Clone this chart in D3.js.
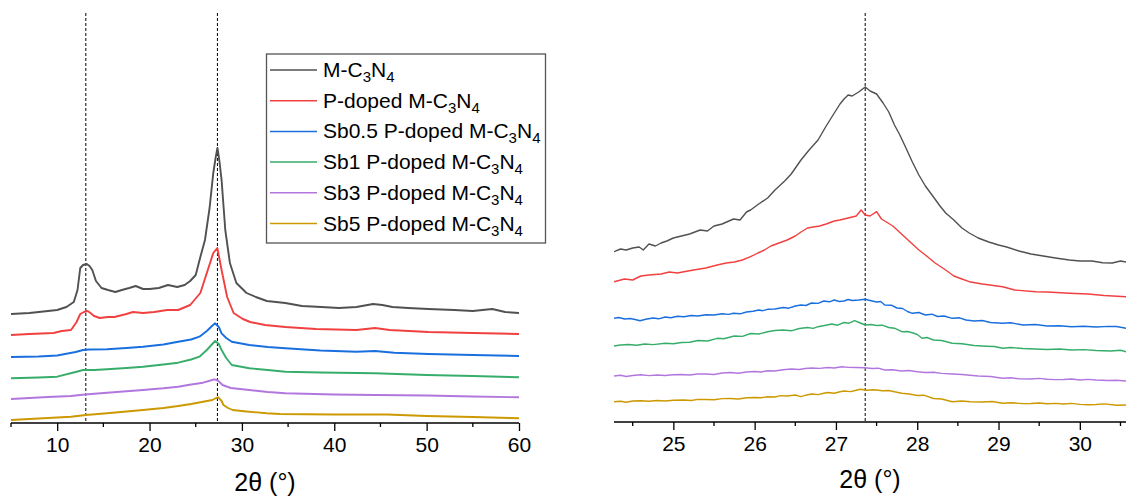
<!DOCTYPE html>
<head>
    <meta charset="utf-8" />
    <title>XRD</title>
    <script src="https://d3js.org/d3.v7.min.js"></script>
    <style>
        body { margin: 0; background: #fff; }
        text { font-family: Arial, "Liberation Sans", sans-serif; fill: #000; }
    </style>
</head>
<body>
<svg width="1126" height="498"></svg>

<script>
    // legend / series names and colours
    let names = ["M-C", "P-doped M-C", "Sb0.5 P-doped M-C", "Sb1 P-doped M-C", "Sb3 P-doped M-C", "Sb5 P-doped M-C"];
    let colors = ["#515151", "#F14040", "#1A6FDF", "#37AD6B", "#B177DE", "#CC9900"];

    // left panel, full scan 5-60 deg (intensity, a.u., already offset)
    let wideBlack = [[5,109],[7,110],[9,112],[10,113],[11,116],[11.8,121],[12.2,133],[12.5,155],[12.8,158],[13.2,159],[13.5,157],[13.8,153],[14.2,142],[14.8,135],[15.5,133],[16.3,131],[17,133],[17.8,135],[18.5,137],[19.3,134],[20,134],[21,135],[22,138],[23,136],[23.8,138],[24.4,142],[25,148],[25.5,166],[26,183],[26.5,215],[26.9,250],[27.15,265],[27.35,275],[27.55,263],[27.8,243],[28.2,193],[28.7,160],[29.4,140],[30.5,130],[31.5,126],[32.7,122],[34.7,120],[36.5,117],[38.6,116],[40.5,115],[42.4,116],[44.2,119],[45.2,118],[46.3,116],[48,115],[50.2,114],[53,113],[55,112],[57.1,114],[58.5,111],[60,110]];
    let wideRed = [[5,88],[7,89],[9.6,90],[10.5,92],[11.5,93],[12.1,101],[12.5,109],[12.9,111],[13.3,112],[13.6,110],[14,107],[14.6,105],[15.5,106],[16.2,106],[17.5,109],[18.2,111],[19.3,110],[20.5,111],[21.9,113],[23.1,113],[24.4,118],[25.5,130],[26.2,150],[26.9,170],[27.34,175],[27.8,153],[28.4,126],[29.1,110],[30.1,104],[30.9,101],[32.5,98],[34.7,96],[38,94],[42.4,93],[44.4,95],[46,93],[50.2,91],[55,90],[60,89]];
    let wideBlue = [[5,66],[8,66.5],[10,67.5],[12,71],[12.8,73],[13.5,73.5],[15.4,73.7],[17.5,75],[19.3,76.3],[21.5,78.5],[23.1,81.3],[24.5,83.5],[25.4,86.3],[26.2,92],[26.7,96.5],[27.1,99.7],[27.5,96],[27.8,89.7],[28.3,85],[28.9,81.3],[30.8,78],[32.8,76],[34.7,74.7],[38.5,72.5],[42.4,71.3],[44.4,72],[46.5,70.3],[50.2,69],[55,68],[60,67]];
    let wideGreen = [[5,44.7],[8,45.5],[10,46.3],[12,51],[12.8,53],[14,53],[15.4,53.7],[17.5,55],[19.3,56.3],[21.5,58.5],[23.1,60.3],[24.5,63.5],[25.4,66.3],[26.2,73],[26.7,78],[27.1,82],[27.5,79],[27.8,73],[28.3,65],[28.9,58],[30.8,54.7],[32.8,53],[34.7,51.3],[38.5,50.5],[44.4,49.7],[50,48],[55,47],[60,45.7]];
    let widePurple = [[5,24],[9,26],[11.5,27],[13,28.5],[15.4,30.3],[17.5,31.7],[19.3,33],[21.5,34.7],[23.1,36.3],[24.5,38.5],[25.8,40.3],[26.6,42.5],[27,43.7],[27.4,42.5],[27.9,38],[28.8,35],[30.8,33],[32.8,31],[34.7,29.7],[40,28.5],[44.4,28],[50,27.5],[55,26.5],[60,25.7]];
    let wideGold = [[5,3],[9,5],[11.5,6.3],[13.1,8],[15.4,9.7],[17.5,11.5],[19.3,13],[21.5,15],[23.1,17],[24.5,19],[25.8,21.3],[26.8,23],[27.2,25],[27.45,25.7],[27.8,22],[28,18],[28.5,15],[29,13],[30.5,11.5],[32.7,9.7],[34.1,9],[40,8.5],[45.7,8.5],[50,7],[55,6],[60,4.7]];

    // right panel, zoom on the (002) peak
    let zoomBlack = [[24.27,170.3],[24.35,173],[24.42,172],[24.5,174],[24.58,175],[24.63,172],[24.7,178],[24.78,176],[24.85,179],[24.92,181],[25.0,184],[25.1,186],[25.2,188],[25.33,192],[25.42,191],[25.5,196],[25.6,198],[25.74,203],[25.82,202],[25.9,210],[25.95,212],[26.05,218],[26.16,224],[26.25,232],[26.37,241],[26.45,248],[26.57,262],[26.67,272],[26.78,282],[26.88,296],[26.98,309],[27.05,318],[27.1,323],[27.15,327],[27.2,326],[27.28,330],[27.36,335],[27.42,331],[27.5,328],[27.58,319],[27.65,310],[27.72,297],[27.78,288],[27.85,276],[27.94,260],[28.02,247],[28.1,236],[28.2,225],[28.28,216],[28.35,209],[28.45,202],[28.55,194],[28.64,189],[28.75,184],[28.88,180],[29.0,177],[29.1,175],[29.25,171],[29.4,168],[29.55,166],[29.7,164],[29.87,162],[30.0,161],[30.15,161],[30.28,159.3],[30.4,159],[30.5,161],[30.57,160]];
    let zoomRed = [[24.27,140.3],[24.4,143],[24.5,142],[24.6,146],[24.7,147],[24.85,148],[24.95,150],[25.05,149],[25.13,150.3],[25.25,152],[25.4,154],[25.54,157],[25.65,159],[25.75,160],[25.85,162],[25.95,165.3],[26.04,169],[26.12,172],[26.2,176],[26.3,179],[26.4,182],[26.5,186],[26.57,190],[26.65,194],[26.72,195],[26.8,196],[26.88,198],[26.98,201],[27.05,202],[27.15,204],[27.25,206],[27.31,212],[27.36,207],[27.42,206],[27.5,210.3],[27.56,203],[27.62,200],[27.7,196],[27.78,190],[27.86,184],[27.94,178],[28.02,172],[28.1,167],[28.22,159],[28.35,152],[28.45,146],[28.55,143],[28.64,140.3],[28.8,138],[29.05,135.3],[29.2,132],[29.46,130.3],[29.6,130],[29.87,128.7],[30.1,128],[30.3,126.5],[30.57,125.3]];
    let zoomBlue = [[24.27,103.7],[24.33,104.5],[24.4,103],[24.47,103.5],[24.53,102.5],[24.59,101.3],[24.66,102.8],[24.75,104],[24.82,103.2],[24.9,105],[24.97,104.2],[25.05,105.8],[25.13,105.3],[25.22,106.5],[25.3,106],[25.4,107.2],[25.5,107],[25.6,108.3],[25.68,107.6],[25.74,108.7],[25.82,108.2],[25.9,110],[25.98,110.8],[26.05,112],[26.1,111.3],[26.16,112.7],[26.25,113],[26.35,114.5],[26.42,113.8],[26.5,116],[26.57,117],[26.63,116.5],[26.7,119],[26.78,118.6],[26.85,121],[26.92,120.2],[26.98,122],[27.04,120.5],[27.1,121],[27.15,122.5],[27.2,121.5],[27.28,122],[27.36,122.7],[27.42,121.5],[27.5,120],[27.55,120.5],[27.6,117],[27.68,116.8],[27.75,114],[27.82,113.5],[27.88,110.5],[27.94,108.7],[28.02,109.5],[28.1,107],[28.18,107.8],[28.25,105.5],[28.33,106],[28.43,103.7],[28.52,104.2],[28.6,102],[28.7,101],[28.8,101.5],[28.9,99.5],[29.05,98.7],[29.15,99.2],[29.3,97],[29.45,97.5],[29.6,96],[29.75,96.3],[29.9,95.3],[30.05,95.8],[30.2,95],[30.35,95.6],[30.45,95.5],[30.57,93.7]];
    let zoomGreen = [[24.27,76],[24.35,77],[24.45,77.5],[24.55,76.8],[24.65,78],[24.75,77.4],[24.9,78.7],[25.0,78.2],[25.1,79.5],[25.2,79.8],[25.3,81.5],[25.42,81],[25.54,83.7],[25.62,83.2],[25.75,86],[25.85,85.6],[25.95,88.5],[26.05,88],[26.16,90.3],[26.25,91.5],[26.35,92],[26.45,91.2],[26.55,93.5],[26.65,94.5],[26.72,93.6],[26.78,95.3],[26.86,96.5],[26.95,98],[27.02,96.8],[27.1,99.5],[27.16,98.8],[27.23,101.3],[27.3,99],[27.36,97],[27.43,97.5],[27.5,96.5],[27.57,96.8],[27.65,94.5],[27.72,93.8],[27.81,90.3],[27.88,90.5],[27.95,89],[28.0,87.5],[28.06,83.7],[28.12,84.5],[28.2,82],[28.3,81.5],[28.43,78.7],[28.55,78.2],[28.7,76.5],[28.85,75.8],[28.95,75.5],[29.05,73.7],[29.15,74.5],[29.3,73.5],[29.45,73],[29.6,72.5],[29.75,73],[29.9,72],[30.05,72.4],[30.2,71.5],[30.38,71],[30.5,71.8],[30.57,70.3]];
    let zoomPurple = [[24.27,46],[24.35,46.8],[24.42,45.5],[24.5,46.5],[24.6,47.2],[24.7,46.4],[24.8,47],[24.9,46.5],[25.0,47.2],[25.1,47.5],[25.2,47],[25.3,48],[25.4,48],[25.5,47.5],[25.6,49],[25.7,49.5],[25.8,48.8],[25.9,50],[26.0,50.5],[26.08,50],[26.16,51.3],[26.25,51],[26.35,52.2],[26.45,53],[26.55,52.5],[26.62,53.5],[26.7,54],[26.8,53.6],[26.9,54.5],[26.98,54],[27.07,55.3],[27.15,54.6],[27.25,54.5],[27.35,54.2],[27.45,53.5],[27.52,53.8],[27.6,52],[27.7,52.3],[27.8,51],[27.9,51.5],[28.0,50.2],[28.1,49.5],[28.2,49.8],[28.3,48.6],[28.43,48],[28.55,47.5],[28.65,46.8],[28.75,46],[28.9,45.5],[29.05,43.7],[29.15,44.3],[29.25,43.2],[29.4,43],[29.5,43.6],[29.6,42.8],[29.7,42.4],[29.8,42.5],[29.9,43],[30.0,42],[30.1,42.6],[30.2,42],[30.35,41.5],[30.45,41.8],[30.57,41]];
    let zoomGold = [[24.27,20.3],[24.35,20.8],[24.42,19.8],[24.5,21],[24.6,21.3],[24.7,20.8],[24.8,21.5],[24.9,21],[25.0,21.8],[25.13,22],[25.22,21.5],[25.3,22.6],[25.4,22.5],[25.5,22.2],[25.6,23.4],[25.7,23.5],[25.8,23],[25.9,24.2],[26.0,24.5],[26.08,24.2],[26.16,25.3],[26.25,25],[26.32,26.4],[26.4,26],[26.5,27],[26.57,25.3],[26.63,26.8],[26.7,28],[26.78,27.4],[26.85,28.8],[26.9,29.5],[26.98,28.8],[27.05,30.2],[27.1,31],[27.18,30.4],[27.25,31.8],[27.3,32.7],[27.38,31.8],[27.45,32.3],[27.5,32],[27.57,31.2],[27.65,31.5],[27.72,30.2],[27.81,28.7],[27.9,28],[28.0,26.5],[28.08,26.8],[28.2,23.5],[28.3,23],[28.43,20.3],[28.55,21],[28.65,20.2],[28.8,20],[28.92,20.5],[29.05,18.7],[29.15,19.3],[29.3,18.4],[29.4,18.5],[29.5,19],[29.6,18.2],[29.7,18.6],[29.8,18],[29.9,18.6],[30.0,17.6],[30.1,17.3],[30.2,17.5],[30.3,18.1],[30.45,16.8],[30.57,17]];

    let wideSeries = [wideBlack, wideRed, wideBlue, wideGreen, widePurple, wideGold];
    let zoomSeries = [zoomBlack, zoomRed, zoomBlue, zoomGreen, zoomPurple, zoomGold];

    let wideTicks = [10, 20, 30, 40, 50, 60];
    let zoomTicks = [25, 26, 27, 28, 29, 30];
    let wideMarks = [13.1, 27.35];
    let zoomMarks = [27.36];

    let svg = d3.select("svg");

    function panel(opts) {
        let g = svg.append("g");
        let x = d3.scaleLinear().domain(opts.domain).range(opts.range);
        let y = d3.scaleLinear().domain([0, 410]).range([opts.base, opts.base - 410]);

        let clipId = "clip" + opts.id;
        svg.append("clipPath").attr("id", clipId)
            .append("rect")
            .attr("x", opts.range[0]).attr("y", 0)
            .attr("width", opts.range[1] - opts.range[0]).attr("height", opts.base);

        let line = d3.line().x(d => x(d[0])).y(d => y(d[1]));

        // reference lines
        g.selectAll(".mark").data(opts.marks).enter().append("line")
            .attr("x1", d => x(d)).attr("x2", d => x(d))
            .attr("y1", 13).attr("y2", opts.base)
            .attr("stroke", "#000").attr("stroke-width", 1)
            .attr("stroke-dasharray", "3,2");

        g.append("g").attr("clip-path", "url(#" + clipId + ")")
            .selectAll("path").data(opts.series).enter().append("path")
            .attr("d", line)
            .attr("fill", "none")
            .attr("stroke", (d, i) => colors[i])
            .attr("stroke-width", opts.lw)
            .attr("stroke-linejoin", "round");

        // minor ticks
        let minor = d3.range(Math.ceil(opts.domain[0] / opts.minorStep) * opts.minorStep, opts.domain[1] + 1e-9, opts.minorStep)
            .filter(v => opts.ticks.indexOf(Math.round(v * 100) / 100) < 0);
        let axisG = g.append("g").attr("transform", "translate(0," + opts.base + ")");
        axisG.append("line")
            .attr("x1", opts.range[0]).attr("x2", opts.range[1])
            .attr("stroke", "#000").attr("stroke-width", 1.5);
        axisG.selectAll(".minor").data(minor).enter().append("line")
            .attr("x1", d => x(d)).attr("x2", d => x(d))
            .attr("y1", 0).attr("y2", 4)
            .attr("stroke", "#000").attr("stroke-width", 1.3);

        let axis = d3.axisBottom(x).tickValues(opts.ticks).tickSize(8).tickPadding(6).tickFormat(d3.format("d"));
        let ax = axisG.append("g").call(axis);
        ax.select(".domain").remove();
        ax.selectAll(".tick line").attr("stroke", "#000").attr("stroke-width", 1.3);
        ax.selectAll(".tick text")
            .style("font-family", "Arial, 'Liberation Sans', sans-serif")
            .style("font-size", "21px").attr("fill", "#000");

        svg.append("text")
            .attr("x", (opts.range[0] + Math.min(opts.range[1], 1126)) / 2)
            .attr("y", opts.titleY)
            .attr("text-anchor", "middle")
            .style("font-size", "25px")
            .text("2θ (°)");
    }

    panel({id: "L", domain: [5, 60], range: [11, 519], base: 423, series: wideSeries,
        ticks: wideTicks, minorStep: 5, marks: wideMarks, lw: 1.9, titleY: 491});
    panel({id: "R", domain: [24.27, 30.6], range: [614, 1128.6], base: 422, series: zoomSeries,
        ticks: zoomTicks, minorStep: 0.5, marks: zoomMarks, lw: 1.4, titleY: 488});

    // legend
    let lg = svg.append("g");
    lg.append("rect")
        .attr("x", 266.5).attr("y", 54).attr("width", 279).attr("height", 189)
        .attr("fill", "#fff").attr("stroke", "#555").attr("stroke-width", 1.3);
    let rows = lg.selectAll(".row").data(names).enter().append("g")
        .attr("transform", (d, i) => "translate(0," + (70 + i * 30.7) + ")");
    rows.append("line")
        .attr("x1", 270).attr("x2", 317)
        .attr("stroke", (d, i) => colors[i]).attr("stroke-width", 1.5);
    let t = rows.append("text")
        .attr("x", 323).attr("y", 7)
        .style("font-size", "21px");
    t.append("tspan").text(d => d);
    t.append("tspan").attr("dy", 5).style("font-size", "15px").text("3");
    t.append("tspan").attr("dy", -5).text("N");
    t.append("tspan").attr("dy", 5).style("font-size", "15px").text("4");
</script>
</body>
